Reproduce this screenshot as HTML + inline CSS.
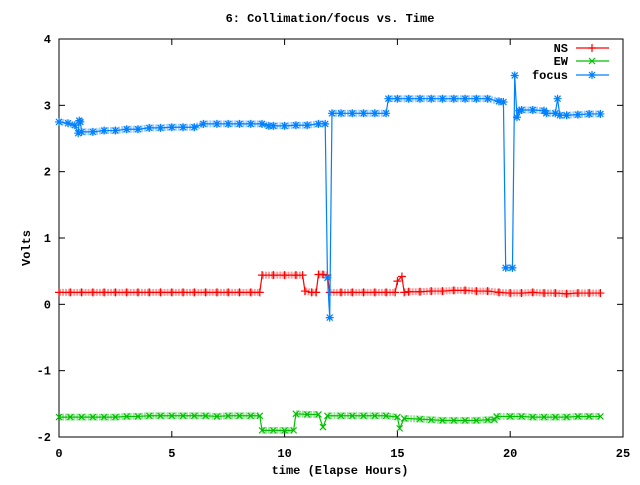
<!DOCTYPE html>
<html><head><meta charset="utf-8"><style>
body{margin:0;background:#fff}
svg text{font-family:"Liberation Mono",monospace;font-size:12px;font-weight:bold;fill:#000}
</style></head><body>
<svg id="chart" width="640" height="480" xmlns="http://www.w3.org/2000/svg">
<rect x="0" y="0" width="640" height="480" fill="#fff"/>
<text x="330" y="22" text-anchor="middle">6: Collimation/focus vs. Time</text>
<text transform="translate(30,248) rotate(-90)" text-anchor="middle">Volts</text>
<text x="340" y="474" text-anchor="middle">time (Elapse Hours)</text>
<g id="axes"></g>
<g id="plot"></g>
<g id="legend"></g>
</svg>
<script>
const xTicks=[0,5,10,15,20,25];
const yTicks=[-2,-1,0,1,2,3,4];
const nsT=[0,0.5,1,1.5,2,2.5,3,3.5,4,4.5,5,5.5,6,6.5,7,7.5,8,8.5,8.9,9.0,9.5,10,10.5,10.8,10.9,11.2,11.4,11.5,11.7,11.9,12.0,12.5,13,13.5,14,14.5,14.9,15.0,15.2,15.3,15.5,16,16.5,17,17.5,18,18.5,19,19.5,20,20.5,21,21.5,22,22.5,23,23.5,24];
const nsV=[0.18,0.18,0.18,0.18,0.18,0.18,0.18,0.18,0.18,0.18,0.18,0.18,0.18,0.18,0.18,0.18,0.18,0.18,0.18,0.44,0.44,0.44,0.44,0.44,0.2,0.18,0.18,0.45,0.45,0.44,0.18,0.18,0.18,0.18,0.18,0.18,0.18,0.35,0.42,0.18,0.19,0.19,0.2,0.2,0.21,0.21,0.2,0.2,0.18,0.17,0.17,0.18,0.17,0.17,0.16,0.17,0.17,0.17];
const ewT=[0,0.5,1,1.5,2,2.5,3,3.5,4,4.5,5,5.5,6,6.5,7,7.5,8,8.5,8.9,9.0,9.5,10,10.4,10.5,11,11.5,11.7,11.9,12.5,13,13.5,14,14.5,15.0,15.1,15.3,16,16.5,17,17.5,18,18.5,19,19.3,19.4,20,20.5,21,21.5,22,22.5,23,23.5,24];
const ewV=[-1.7,-1.7,-1.7,-1.7,-1.7,-1.7,-1.69,-1.69,-1.68,-1.68,-1.68,-1.68,-1.68,-1.68,-1.69,-1.68,-1.68,-1.68,-1.68,-1.9,-1.9,-1.9,-1.9,-1.65,-1.66,-1.66,-1.85,-1.68,-1.68,-1.68,-1.68,-1.68,-1.68,-1.7,-1.87,-1.72,-1.73,-1.74,-1.75,-1.75,-1.75,-1.75,-1.74,-1.74,-1.69,-1.69,-1.69,-1.7,-1.7,-1.7,-1.7,-1.69,-1.69,-1.69];
const fT=[0,0.4,0.7,0.85,0.9,0.95,1.0,1.5,2,2.5,3,3.5,4,4.5,5,5.5,6,6.4,7,7.5,8,8.5,9,9.3,9.5,10,10.5,11,11.5,11.8,11.9,12.0,12.1,12.5,13,13.5,14,14.5,14.6,15,15.5,16,16.5,17,17.5,18,18.5,19,19.5,19.7,19.8,20.1,20.2,20.3,20.4,20.5,21,21.5,21.6,22,22.1,22.2,22.5,23,23.5,24];
const fV=[2.75,2.73,2.7,2.58,2.77,2.75,2.6,2.6,2.62,2.62,2.64,2.64,2.66,2.66,2.67,2.67,2.67,2.72,2.72,2.72,2.72,2.72,2.72,2.69,2.69,2.69,2.7,2.7,2.72,2.72,0.4,-0.2,2.88,2.88,2.88,2.88,2.88,2.88,3.1,3.1,3.1,3.1,3.1,3.1,3.1,3.1,3.1,3.1,3.06,3.05,0.55,0.55,3.45,2.82,2.92,2.93,2.93,2.92,2.88,2.88,3.1,2.85,2.85,2.86,2.87,2.87];

const X0=59,X1=623,Y0=437,Y1=39,xMax=25,yMin=-2,yMax=4;
const sx=v=>X0+(v/xMax)*(X1-X0);
const sy=v=>Y0-(v-yMin)/(yMax-yMin)*(Y0-Y1);
const NS="http://www.w3.org/2000/svg";
function mk(tag,attrs,parent){const e=document.createElementNS(NS,tag);for(const k in attrs)e.setAttribute(k,attrs[k]);parent.appendChild(e);return e;}
const axes=document.getElementById('axes'),plot=document.getElementById('plot'),leg=document.getElementById('legend');
const frame=mk('rect',{x:X0,y:Y1,width:X1-X0,height:Y0-Y1,fill:'none',stroke:'#000','stroke-width':1},axes);


xTicks.forEach(t=>{
 mk('line',{x1:sx(t),x2:sx(t),y1:Y0,y2:Y0-6,stroke:'#000'},axes);
 mk('line',{x1:sx(t),x2:sx(t),y1:Y1,y2:Y1+6,stroke:'#000'},axes);
 const tx=mk('text',{x:sx(t),y:Y0+20,'text-anchor':'middle'},axes);tx.textContent=t;
 
 
});
yTicks.forEach(t=>{
 mk('line',{x1:X0,x2:X0+6,y1:sy(t),y2:sy(t),stroke:'#000'},axes);
 mk('line',{x1:X1,x2:X1-6,y1:sy(t),y2:sy(t),stroke:'#000'},axes);
 const tx=mk('text',{x:X0-8,y:sy(t)+4,'text-anchor':'end'},axes);tx.textContent=t;
 
 
});
function marker(type,x,y,c,g){
 const d=type==='plus'?`M${x-4},${y}h8M${x},${y-4}v8`:type==='x'?`M${x-3},${y-3}l6,6M${x-3},${y+3}l6,-6`:`M${x-4},${y}h8M${x},${y-4}v8M${x-3},${y-3}l6,6M${x-3},${y+3}l6,-6`;
 mk('path',{d:d,stroke:c,'stroke-width':1.2,fill:'none'},g);
}
function series(name,T,V,c,type){
 const g=mk('g',{},plot);
 
 
 for(let i=1;i<T.length;i++){
  const x1=sx(T[i-1]),y1=sy(V[i-1]),x2=sx(T[i]),y2=sy(V[i]);
  if(Math.abs(y2-y1)<4) mk('line',{x1:x1,y1:y1,x2:x2,y2:y2,stroke:c,'stroke-width':7,'stroke-opacity':0.4,'stroke-dasharray':'2,1'},g);
 }
 const pts=T.map((t,i)=>sx(t)+','+sy(V[i])).join(' ');
 mk('polyline',{points:pts,fill:'none',stroke:c,'stroke-width':1.2},g);
 T.forEach((t,i)=>marker(type,sx(t),sy(V[i]),c,g));
}
series('ns',nsT,nsV,'#ff0000','plus');
series('ew',ewT,ewV,'#00c000','x');
series('focus',fT,fV,'#0080ff','star');
[['NS','#ff0000','plus',48],['EW','#00c000','x',61],['focus','#0080ff','star',75]].forEach(r=>{
 const g=mk('g',{},leg);
 
 
 const tx=mk('text',{x:568,y:r[3]+4,'text-anchor':'end'},g);tx.textContent=r[0];
 mk('line',{x1:576,x2:609,y1:r[3],y2:r[3],stroke:r[1],'stroke-width':1.2},g);
 marker(r[2],592,r[3],r[1],g);
});
</script>
</body></html>
